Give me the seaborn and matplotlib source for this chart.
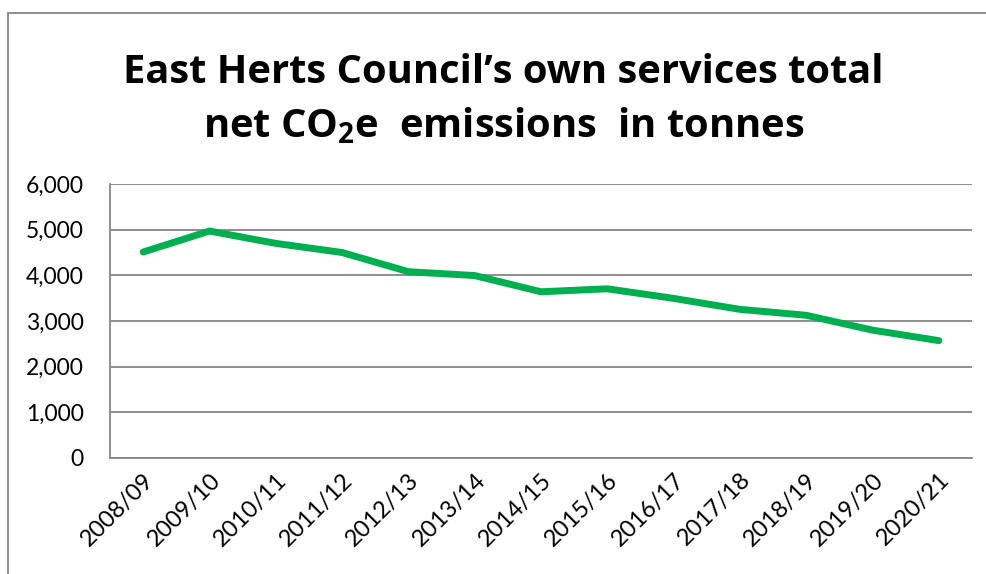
import matplotlib
matplotlib.use("Agg")
import matplotlib.pyplot as plt
import seaborn as sns
from matplotlib.lines import Line2D

# data
years = ["2008/09", "2009/10", "2010/11", "2011/12", "2012/13", "2013/14", "2014/15",
         "2015/16", "2016/17", "2017/18", "2018/19", "2019/20", "2020/21"]
emissions = [4510, 4970, 4700, 4500, 4080, 3995, 3640,
             3705, 3495, 3255, 3125, 2800, 2570]
yticks = [0, 1000, 2000, 3000, 4000, 5000, 6000]

sns.set_style("white")
plt.rcParams["font.family"] = ["Lato", "DejaVu Sans"]
plt.rcParams["text.color"] = "black"
plt.rcParams["xtick.color"] = "black"
plt.rcParams["ytick.color"] = "black"
plt.rcParams["mathtext.fontset"] = "custom"
plt.rcParams["mathtext.rm"] = "Open Sans"
plt.rcParams["mathtext.bf"] = "Open Sans:bold"

fig = plt.figure(figsize=(9.87, 5.74), dpi=100)
ax = fig.add_axes([110/987, 1-458/574, 862/987, 274/574])

sns.lineplot(x=years, y=emissions, sort=False, color="#00B050", linewidth=5,
             solid_capstyle="round", solid_joinstyle="round", ax=ax)

ax.set_xlim(-0.5, len(years) - 0.5)
ax.set_ylim(0, 6000)
ax.set_yticks(yticks)
ax.set_yticklabels([f"{v:,}" for v in yticks])
ax.yaxis.grid(True, color="#868686", linewidth=1.3)
ax.set_axisbelow(True)

ax.set_xticks(range(len(years)))
ax.set_xticklabels(years, rotation=45, ha="right", rotation_mode="anchor")
ax.set_xticks([i - 0.5 for i in range(len(years) + 1)], minor=True)
ax.tick_params(axis="x", which="major", length=0, pad=8, labelsize=17, labelcolor="black")
ax.tick_params(axis="x", which="minor", length=6, width=1.3, color="#868686")
ax.tick_params(axis="y", length=6, width=1.3, color="#868686", labelsize=16.5,
               labelcolor="black", pad=13)

for side in ["top", "right"]:
    ax.spines[side].set_visible(False)
for side in ["left", "bottom"]:
    ax.spines[side].set_color("#868686")
    ax.spines[side].set_linewidth(1.3)
ax.set_xlabel("")
ax.set_ylabel("")

title_font = dict(family=["Open Sans", "DejaVu Sans"], fontsize=28.7, fontweight="bold",
                  ha="center", va="baseline", color="black")
fig.text(0.51, 1-83/574, "East Herts Council\u2019s own services total", **title_font)
fig.text(0.51, 1-137/574, r"net CO$_{\mathbf{2}}$e  emissions  in tonnes", **title_font)

# outer chart frame
fig.add_artist(Line2D([8/987, 8/987], [0, 1-13/574], color="#868686", linewidth=1.3,
                      transform=fig.transFigure))
fig.add_artist(Line2D([8/987, 1], [1-13/574, 1-13/574], color="#868686", linewidth=1.3,
                      transform=fig.transFigure))

fig.savefig("out.png", dpi=100)
